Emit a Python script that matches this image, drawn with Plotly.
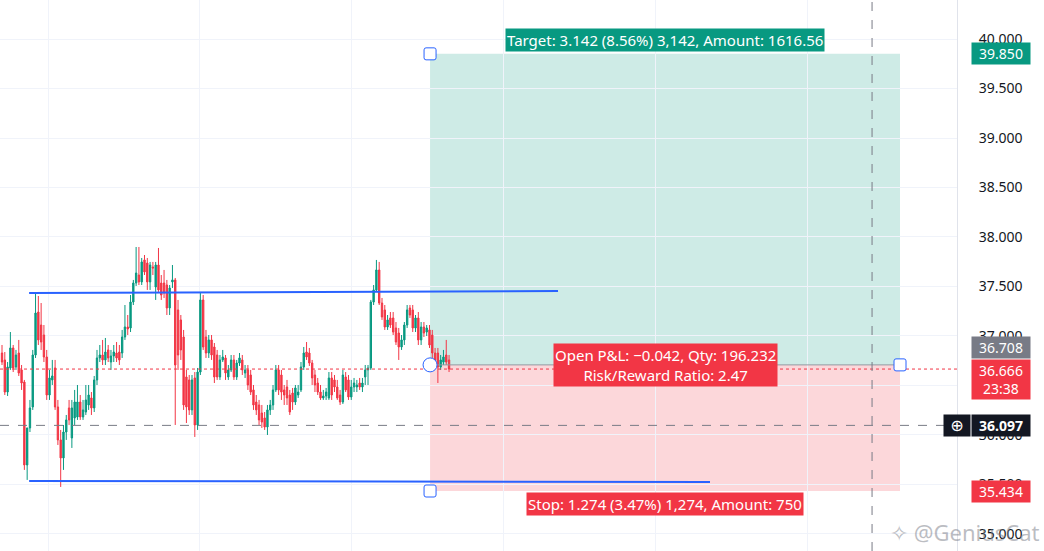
import plotly.graph_objects as go

# ---------------- data ----------------
open_ = [36.828, 36.758, 36.434, 36.677, 36.879, 36.687, 36.828, 36.657, 36.535, 35.697,
         36.071, 36.283, 36.808, 37.242, 37.111, 37.010, 36.788, 36.404, 36.556, 36.677,
         36.283, 35.950, 35.768, 36.030, 36.273, 35.970, 36.172, 36.182, 36.333, 36.182,
         36.232, 36.303, 36.374, 36.273, 36.556, 36.778, 36.808, 36.758, 36.859,
         36.737, 36.798, 36.828, 36.838, 36.828, 36.990, 37.091, 37.081, 37.343, 37.535,
         37.616, 37.546, 37.768, 37.737, 37.546, 37.697, 37.495, 37.717, 37.535, 37.535,
         37.515, 37.283, 37.546, 37.566, 37.263, 37.162, 36.990, 36.586, 36.556, 36.253,
         36.576, 36.101, 36.636, 37.364, 36.990, 36.828, 36.960, 36.889, 36.808, 36.586,
         36.758, 36.778,
         36.586, 36.657, 36.758, 36.586, 36.727, 36.758, 36.626, 36.657, 36.606, 36.455,
         36.333, 36.303, 36.222, 36.172, 36.081, 36.253, 36.303, 36.455, 36.657, 36.606,
         36.455, 36.485, 36.404, 36.424, 36.333, 36.404, 36.455, 36.687, 36.838, 36.828,
         36.727, 36.606, 36.525, 36.434, 36.374, 36.394, 36.374, 36.576, 36.556, 36.485,
         36.404, 36.333,
         36.586, 36.556, 36.384, 36.485, 36.485, 36.525, 36.485, 36.586, 36.657, 36.677,
         37.343, 37.465,
         37.667, 37.333, 37.263, 37.091, 37.182, 37.182, 37.081, 37.030, 36.889, 36.960,
         37.111, 37.283, 37.263, 37.081, 37.182, 36.960, 37.091, 37.040,
         37.061, 37.010, 36.828, 36.828, 36.687, 36.737, 36.808, 36.758]
high = [36.909, 36.838, 36.737, 37.040, 36.909, 36.859, 36.960, 36.707, 36.556, 35.768,
        36.354, 36.859, 37.434, 37.404, 37.333, 37.111, 36.859, 36.657, 36.758, 36.758,
        36.354, 36.051, 36.101, 36.202, 36.354, 36.354, 36.455, 36.505, 36.404, 36.354,
        36.505, 36.505, 36.434, 36.596, 36.859, 36.909, 36.960, 36.980, 36.909,
        36.859, 36.909, 36.939, 36.909, 37.061, 37.313, 37.212, 37.414, 37.566, 37.899,
        37.899, 37.788, 37.818, 37.788, 37.748, 37.748, 37.748, 37.889, 37.616, 37.667,
        37.566, 37.515, 37.717, 37.586, 37.364, 37.212, 37.061, 36.657, 36.606, 36.606,
        36.636, 36.677, 37.434, 37.414, 37.061, 37.010, 37.010, 36.929, 36.859, 36.808,
        36.859, 36.808,
        36.707, 36.808, 36.808, 36.758, 36.828, 36.808, 36.707, 36.707, 36.657, 36.505,
        36.404, 36.354, 36.303, 36.232, 36.303, 36.354, 36.505, 36.707, 36.707, 36.657,
        36.505, 36.556, 36.455, 36.475, 36.505, 36.505, 36.737, 36.889, 36.939, 36.879,
        36.758, 36.657, 36.576, 36.505, 36.455, 36.475, 36.636, 36.636, 36.606, 36.556,
        36.455, 36.657,
        36.636, 36.606, 36.556, 36.576, 36.556, 36.576, 36.576, 36.707, 36.707, 37.364,
        37.515, 37.768,
        37.748, 37.384, 37.313, 37.212, 37.242, 37.242, 37.141, 37.081, 37.010, 37.141,
        37.313, 37.313, 37.313, 37.212, 37.242, 37.141, 37.141, 37.111,
        37.111, 37.061, 36.879, 36.879, 36.808, 36.859, 36.960, 36.808]
low = [36.707, 36.404, 36.394, 36.657, 36.636, 36.657, 36.596, 36.455, 35.647, 35.546,
       36.030, 36.253, 36.778, 36.909, 36.859, 36.737, 36.354, 36.354, 36.505, 36.253,
       35.899, 35.475, 35.647, 35.950, 36.101, 35.869, 36.101, 36.152, 36.152, 36.152,
       36.202, 36.253, 36.202, 36.232, 36.505, 36.737, 36.707, 36.707, 36.737,
       36.657, 36.737, 36.737, 36.707, 36.778, 36.960, 37.010, 37.040, 37.313, 37.505,
       37.515, 37.515, 37.616, 37.465, 37.465, 37.616, 37.364, 37.445, 37.364, 37.384,
       37.212, 37.212, 37.485, 36.101, 36.657, 36.758, 36.253, 36.121, 36.202, 36.202,
       35.980, 36.051, 36.606, 36.859, 36.778, 36.778, 36.758, 36.525, 36.556, 36.556,
       36.737, 36.556,
       36.556, 36.636, 36.556, 36.556, 36.697, 36.606, 36.576, 36.455, 36.404, 36.253,
       36.202, 36.101, 36.071, 36.051, 36.000, 36.202, 36.253, 36.434, 36.404, 36.354,
       36.303, 36.303, 36.202, 36.253, 36.303, 36.374, 36.434, 36.657, 36.758, 36.697,
       36.505, 36.434, 36.404, 36.354, 36.354, 36.354, 36.354, 36.354, 36.434, 36.354,
       36.303, 36.313,
       36.434, 36.354, 36.354, 36.434, 36.434, 36.455, 36.434, 36.505, 36.505, 36.657,
       37.313, 37.445,
       37.313, 37.162, 37.061, 37.061, 37.081, 37.010, 36.909, 36.758, 36.859, 36.909,
       37.081, 37.182, 37.040, 37.040, 36.909, 36.909, 36.990, 37.000,
       36.879, 36.778, 36.707, 36.525, 36.657, 36.707, 36.707, 36.636]
close = [36.737, 36.434, 36.687, 36.879, 36.677, 36.808, 36.626, 36.525, 35.697, 36.071,
         36.273, 36.808, 37.232, 36.960, 36.939, 36.788, 36.404, 36.576, 36.596, 36.283,
         35.950, 35.768, 36.030, 36.152, 36.152, 36.273, 36.333, 36.333, 36.182, 36.253,
         36.354, 36.404, 36.273, 36.556, 36.778, 36.808, 36.758, 36.838, 36.778,
         36.798, 36.838, 36.778, 36.758, 36.990, 37.091, 37.071, 37.343, 37.535, 37.636,
         37.546, 37.748, 37.647, 37.546, 37.717, 37.687, 37.717, 37.465, 37.414, 37.434,
         37.283, 37.485, 37.566, 36.707, 36.808, 36.859, 36.303, 36.283, 36.253, 36.556,
         36.101, 36.636, 37.364, 36.889, 36.828, 36.960, 36.808, 36.586, 36.586, 36.758,
         36.788, 36.626,
         36.657, 36.758, 36.586, 36.727, 36.778, 36.657, 36.657, 36.505, 36.434, 36.303,
         36.253, 36.152, 36.131, 36.081, 36.253, 36.303, 36.455, 36.657, 36.455, 36.434,
         36.404, 36.374, 36.232, 36.333, 36.475, 36.434, 36.687, 36.828, 36.788, 36.727,
         36.576, 36.505, 36.434, 36.374, 36.394, 36.434, 36.576, 36.404, 36.485, 36.374,
         36.333, 36.606,
         36.455, 36.384, 36.485, 36.525, 36.505, 36.485, 36.525, 36.657, 36.677, 37.343,
         37.465, 37.667,
         37.333, 37.192, 37.091, 37.162, 37.111, 37.040, 36.939, 36.889, 36.960, 37.111,
         37.263, 37.212, 37.081, 37.182, 36.960, 37.091, 37.030, 37.081,
         36.909, 36.828, 36.758, 36.687, 36.758, 36.788, 36.737, 36.666]
bars = list(range(len(close)))

y_ticks = [35.0, 35.5, 36.0, 36.5, 37.0, 37.5, 38.0, 38.5, 39.0, 39.5, 40.0]
y_tick_labels = [f"{v:.3f}" for v in y_ticks]

entry_price = 36.708
target_price = 39.850
stop_price = 35.434
last_price = 36.666
crosshair_price = 36.097
resistance_prices = [37.434, 37.455]
support_prices = [35.535, 35.525]

target_text = "Target: 3.142 (8.56%) 3,142, Amount: 1616.56"
pnl_text = "Open P&L: \u22120.042, Qty: 196.232<br>Risk/Reward Ratio: 2.47"
stop_text = "Stop: 1.274 (3.47%) 1,274, Amount: 750"
countdown_text = "23:38"
watermark_text = "@GeniusCat"

# ---------------- drawing anchors (bar indices) ----------------
position_bars = (153.2, 321.4)
resistance_bars = (9.7, 199.0)
support_bars = (9.7, 253.4)
crosshair_bar = 311.4
x_range = [-0.72, 341.8]
y_range = [34.828, 40.394]

GREEN = "#089981"
RED = "#f23645"
BLUE = "#2962ff"
FONT = "Noto Sans"

fig = go.Figure()
fig.add_trace(go.Candlestick(
    x=bars, open=open_, high=high, low=low, close=close,
    increasing=dict(line=dict(color=GREEN, width=1), fillcolor=GREEN),
    decreasing=dict(line=dict(color=RED, width=1), fillcolor=RED),
    whiskerwidth=0, hoverinfo="skip", showlegend=False,
))

shapes = []
pl, pr = position_bars
shapes.append(dict(type="rect", x0=pl, x1=pr, y0=entry_price, y1=target_price,
                   fillcolor="rgba(8,153,129,0.2)", line=dict(width=0), layer="below"))
shapes.append(dict(type="rect", x0=pl, x1=pr, y0=stop_price, y1=entry_price,
                   fillcolor="rgba(242,54,69,0.2)", line=dict(width=0), layer="below"))
shapes.append(dict(type="line", x0=pl, x1=pr, y0=entry_price, y1=entry_price,
                   line=dict(color="#9598a1", width=1)))
shapes.append(dict(type="line", xref="paper", x0=0, x1=1, y0=last_price, y1=last_price,
                   line=dict(color=RED, width=1, dash="dot")))
shapes.append(dict(type="line", xref="paper", x0=0, x1=1, y0=crosshair_price, y1=crosshair_price,
                   line=dict(color="#787b86", width=1, dash="dash")))
shapes.append(dict(type="line", yref="paper", y0=0, y1=1, x0=crosshair_bar, x1=crosshair_bar,
                   line=dict(color="#787b86", width=1, dash="dash")))
shapes.append(dict(type="line", x0=resistance_bars[0], x1=resistance_bars[1],
                   y0=resistance_prices[0], y1=resistance_prices[1], line=dict(color=BLUE, width=2)))
shapes.append(dict(type="line", x0=support_bars[0], x1=support_bars[1],
                   y0=support_prices[0], y1=support_prices[1], line=dict(color=BLUE, width=2)))

rsq = "M -4,-6 L 4,-6 Q 6,-6 6,-4 L 6,4 Q 6,6 4,6 L -4,6 Q -6,6 -6,4 L -6,-4 Q -6,-6 -4,-6 Z"
for hx, hy in [(pl, target_price), (pl, stop_price), (pr, entry_price)]:
    shapes.append(dict(type="path", xsizemode="pixel", ysizemode="pixel",
                       xanchor=hx, yanchor=hy, path=rsq,
                       fillcolor="white", line=dict(color=BLUE, width=1)))
shapes.append(dict(type="circle", xsizemode="pixel", ysizemode="pixel",
                   xanchor=pl, yanchor=entry_price, x0=-7, x1=7, y0=-7, y1=7,
                   fillcolor="white", line=dict(color=BLUE, width=1)))

mid = (pl + pr) / 2
ann = []
ann.append(dict(x=mid, y=target_price, text=target_text, showarrow=False, yanchor="bottom",
                yshift=2, bgcolor=GREEN, borderpad=1, font=dict(color="white", size=15, family=FONT)))
ann.append(dict(x=mid, y=entry_price, text=pnl_text, showarrow=False, yanchor="middle",
                bgcolor=RED, borderpad=1, font=dict(color="white", size=15, family=FONT)))
ann.append(dict(x=mid, y=stop_price, text=stop_text, showarrow=False, yanchor="top",
                yshift=-1, bgcolor=RED, borderpad=1, font=dict(color="white", size=15, family=FONT)))

def axis_label(price, text, color, yshift=0, yanchor="middle"):
    return dict(xref="paper", x=1, xanchor="left", xshift=14, y=price, yanchor=yanchor,
                yshift=yshift, text=text, showarrow=False, bgcolor=color, width=56,
                borderpad=1, align="center", font=dict(color="white", size=14, family=FONT))

ann.append(axis_label(target_price, f"{target_price:.3f}", GREEN))
ann.append(axis_label(entry_price, f"{entry_price:.3f}", "#787b86", yshift=17))
ann.append(axis_label(last_price, f"{last_price:.3f}<br>{countdown_text}", RED,
                      yshift=10, yanchor="top"))
ann.append(axis_label(crosshair_price, f"<b>{crosshair_price:.3f}</b>", "#131722"))
ann.append(dict(xref="paper", x=1, xanchor="right", xshift=14, y=crosshair_price,
                yanchor="middle", text="\u2295", showarrow=False, bgcolor="#131722",
                width=24, borderpad=1, font=dict(color="white", size=16, family="DejaVu Sans")))
ann.append(axis_label(stop_price, f"{stop_price:.3f}", RED))
ann.append(dict(xref="paper", yref="paper", x=1, xanchor="right", xshift=85, y=0,
                yanchor="bottom", yshift=2, text="\u2727 " + watermark_text, showarrow=False,
                font=dict(color="rgba(120,123,134,0.5)", size=22, family=FONT)))

fig.update_layout(
    width=1044, height=551,
    margin=dict(l=0, r=87, t=0, b=0),
    paper_bgcolor="white", plot_bgcolor="white",
    shapes=shapes, annotations=ann,
    showlegend=False, hovermode=False,
    xaxis=dict(range=x_range, rangeslider=dict(visible=False), showticklabels=False,
               showgrid=True, gridcolor="#f0f3fa", tick0=16.46, dtick=54.4,
               zeroline=False, fixedrange=True),
    yaxis=dict(range=y_range, side="right", tickvals=y_ticks, ticktext=y_tick_labels,
               showgrid=True, gridcolor="#f0f3fa", zeroline=False, ticks="",
               ticklabelstandoff=18, showline=True, linecolor="#e0e3eb", mirror=False,
               tickfont=dict(color="#131722", size=14, family=FONT)),
)

fig.write_html("out.html", config={"displayModeBar": False},
               post_script="document.body.style.margin='0px';document.body.style.overflow='hidden';")
